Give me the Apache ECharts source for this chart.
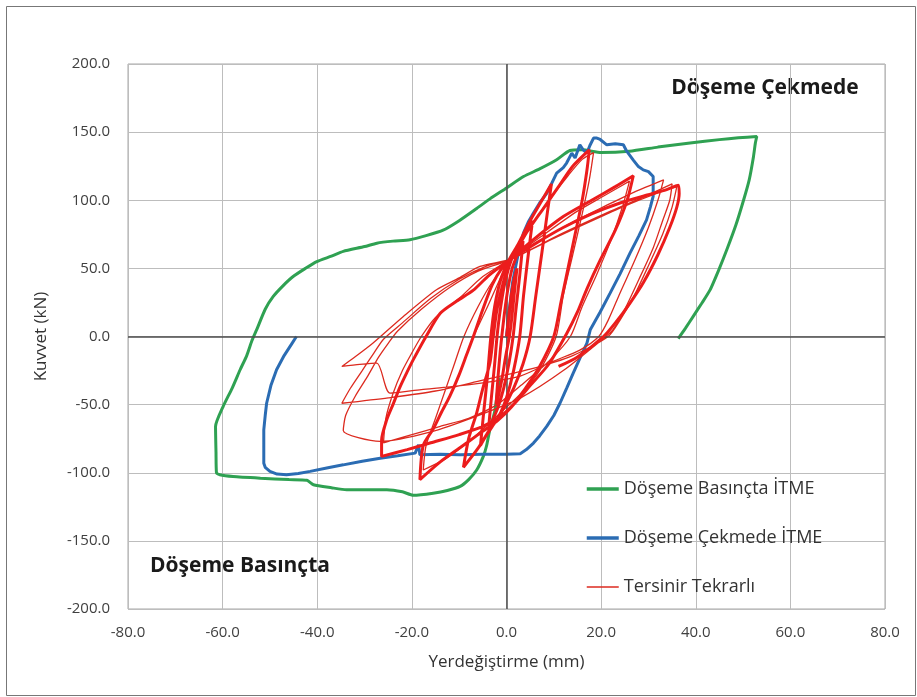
<!DOCTYPE html>
<html><head><meta charset="utf-8">
<script src="https://cdn.jsdelivr.net/npm/echarts@6/dist/echarts.min.js"></script>
<style>html,body{margin:0;padding:0;background:#fff}#c{width:917px;height:697px}</style>
</head><body><div id="c"></div>
<script>
// ---- Data: [displacement (mm), force (kN)] ----
const seriesNames = ['Döşeme Basınçta İTME', 'Döşeme Çekmede İTME', 'Tersinir Tekrarlı'];
const xAxisTicks = [-80, -60, -40, -20, 0, 20, 40, 60, 80];
const yAxisTicks = [-200, -150, -100, -50, 0, 50, 100, 150, 200];
const annotations = ['Döşeme Çekmede', 'Döşeme Basınçta'];
const axisTitles = ['Yerdeğiştirme (mm)', 'Kuvvet (kN)'];

const greenPts = [
  [-1.5,-30],[-2.5,-55],[-3.5,-68],[-4.2,-80],[-4.9,-88],[-6.3,-98],[-8,-105],[-9.8,-110],[-12.5,-113],[-15.5,-115],[-19.7,-116.5],
  [-22,-114],[-25.3,-112.5],[-29,-112.5],[-33.8,-112.5],[-37,-111],[-40.8,-108.8],[-42.2,-105.5],[-46,-105],[-52,-104],[-57.8,-102.8],
  [-60.6,-101.5],[-61.3,-100],[-61.4,-85],[-61.5,-66],[-59.9,-51.4],[-58,-38],[-56.3,-24.4],[-54.9,-14],[-53.8,-3],[-52.8,5],
  [-51,20],[-49.3,29.4],[-47.3,37],[-45.1,44],[-42.5,50],[-40.1,55],[-37,59],[-34.5,62.5],[-30,66],[-27.4,68.5],[-24,70],[-20.4,71],
  [-17,74],[-13.4,78],[-10,85],[-6.3,94],[-3.5,101],[0,109],[3.6,117.4],[7,123],[10.6,129.7],[13.4,136.5],[16,137],[20,135],
  [26,136],[32,139],[38.8,142],[45,144.5],[49,145.8],[52.9,146.8],[52.6,142],[52.2,132],[51.3,115],[50.1,100],[48.5,82],
  [46.6,64],[45,50],[43,34],[41.2,24],[39.5,15],[37.8,6],[36.3,-1.5]
];

const bluePts = [
  [0,0],[0.6,20],[1.3,40],[2.2,56],[3,68],[3.6,76],[4.6,84],[5.7,90.6],[7,98],[8.5,105],[9.5,112],[10.6,119.9],[12,124],
  [12.7,127.3],[13.8,134.6],[14.5,131],[15.5,140.7],[16.2,137],[17,134.6],[17.6,140],[18.4,145.6],[19.1,145.6],[19.8,144.6],
  [21.2,140.7],[23,141.5],[24.7,140.7],[25.4,136],[26.8,129.5],[27.8,125],[28.9,122.3],[30,121],[31,117.4],[31,110],[31,102.8],
  [30.4,95],[29.6,85.6],[28,74],[26.1,61.2],[24,46],[21.9,31.8],[19.8,18],[17.7,4.9],[17,-4.9],[15.5,-16],[14.1,-26.9],
  [12.7,-38],[11.3,-49],[10,-58],[8.5,-66],[7,-73],[5.7,-78.2],[4.2,-83],[2.9,-86],[0,-86.5],[-5,-86.5],[-9.8,-86.8],
  [-14,-86.5],[-18.3,-86.8],[-18.6,-79.5],[-19.3,-85.6],[-23,-87.5],[-26.7,-89.3],[-30.5,-91.5],[-34.5,-94.2],[-38,-96.5],
  [-41.5,-99],[-44,-100.5],[-46.5,-101.5],[-48.5,-101],[-50,-99],[-51,-96],[-51.3,-93],[-51.3,-80],[-51.3,-68.5],[-51,-58],
  [-50.7,-49],[-49.8,-36],[-48.6,-24.4],[-47,-14],[-45.5,-6],[-44.4,0]
];

const redThinPts = [
  [-7,0],[-4,22],[-1,45],[1,57],[5,80],[9,100],[13,118],[16,130],[18.4,135],[17.5,115],[16,90],[14,60],[12,30],[10.5,0],
  [7,-25],[3,-42],[-1,-55],[-5,-68],[-9,-80],[-13,-90],[-17.6,-98],[-17,-80],[-15,-60],[-13,-40],[-11,-20],[-9,0],
  [-6,22],[-3,40],[1,57],[8,75],[15,92],[21,104],[26,114],[24.5,95],[22,70],[19,45],[16,22],[13.5,0],[9,-18],[3,-36],
  [-2,-50],[-8,-60],[-14,-66],[-20,-72],[-26,-78],[-25.5,-60],[-24,-42],[-22,-25],[-20,-12],[-18,0],[-15,14],[-10,28],
  [-5,44],[1,57],[7,70],[14,84],[21,96],[27,106],[33.2,115],[32,100],[30,80],[27,55],[24,32],[21.5,12],[19.5,0],[15.5,-10],
  [10,-18],[2.9,-29],[-5,-34],[-12,-37],[-18,-39],[-24.6,-41.6],[-27.4,-19.5],[-31,-20.5],[-34.8,-22],[-32.4,-16],[-28.2,-4.8],
  [-21.8,14.7],[-14.8,34.3],[-10,43],[-5.6,51.4],[1,57],[10,72],[20,88],[28,100],[34,108],[36,110],[35,95],[33,75],[30,52],
  [27,30],[24,12],[21.5,0],[14,-14],[5,-24],[-5,-32],[-15,-40],[-25,-45],[-34.8,-49],[-33,-38],[-30.5,-25],[-28,-12],[-26,-2],
  [-22,10],[-16,28],[-10,42],[-4,52],[1,57],[12,76],[22,92],[30,104],[35,112],[34.5,100],[33,85],[31,65],[28,42],[25,20],
  [22.5,5],[21,0],[12,-25],[3,-45],[-6,-58],[-16,-70],[-26.7,-77],[-34.5,-69],[-34,-58],[-32,-44],[-29.5,-30],[-27,-15],
  [-25,-5],[-23,4],[-18,20],[-12,36],[-6,48],[0,55]
];

const redThickPts = [
  [0,0],[0.5,15],[1,30],[1.6,42],[2.2,50],[1.6,30],[1,10],[0.6,0],[-0.2,-15],[-0.9,-30],[-1.6,-42],[-2.2,-50],[-1.8,-30],
  [-1.3,-10],[-1,0],[-0.4,18],[0.3,35],[1.2,50],[2.5,62],[3.5,70],[2.8,45],[2,20],[1.4,0],[0.5,-20],[-0.6,-38],[-1.8,-52],
  [-3,-62],[-3.8,-68],[-3.2,-45],[-2.5,-20],[-2,0],[-1.3,20],[-0.3,40],[1,56],[2.5,66],[4.5,78],[5.5,85],[4.6,60],[3.6,30],
  [2.8,0],[1.5,-25],[0,-45],[-1.5,-58],[-3,-66],[-4.5,-74],[-5.5,-80],[-4.8,-55],[-4,-28],[-3.3,0],[-2.5,22],[-1.2,42],
  [0.5,56],[2.5,68],[5,85],[7.5,100],[9.5,112],[8.6,90],[7.5,62],[6.2,30],[5,0],[3.5,-20],[1.5,-38],[-1,-55],[-3.5,-68],
  [-6,-82],[-9.1,-96],[-8,-75],[-6.3,-56],[-5,-38],[-3.5,-19.5],[-2.8,0],[-2,20],[-0.5,42],[1,57],[4,75],[8,95],[11,110],
  [14,125],[17.5,137],[17,122],[16,100],[14.5,75],[13,50],[11.5,25],[10,0],[7,-22],[4,-38],[1,-52],[-2,-62],[-6,-72],
  [-10,-82],[-14,-92],[-18.3,-105],[-17.6,-80],[-15.5,-68],[-13.8,-56],[-12,-44],[-10,-28],[-8.5,-14],[-7,0],[-5,20],
  [-3,38],[-1,50],[1,57],[6,72],[12,88],[18,100],[23,110],[26.8,118],[25.5,100],[23,78],[19.8,56],[17,35],[15,18],[12.7,2],
  [9,-20],[5,-36],[2,-48],[-1,-58],[-5,-66],[-10,-72],[-16,-78],[-21,-83],[-26.4,-88],[-26.4,-76],[-25.3,-61],[-24,-50],
  [-22.5,-37],[-21,-26],[-19.7,-17],[-17,0],[-14,17],[-10.5,26],[-7,34],[-4,44],[-1.4,51],[1,57],[6,68],[12,80],[18,90],
  [24,98],[30,104],[34,108],[36.3,111],[36.5,105],[36,95],[34.5,80],[32,60],[29,40],[26,24],[23,10],[20.5,0],[15,-15],[11,-22]
];

// ---- Chart ----
const chart = echarts.init(document.getElementById('c'), null, {renderer: 'canvas'});
const FONT = '"Open Sans", "Liberation Sans", sans-serif';
const fmt = v => v.toFixed(1);
const GREEN = '#2fa152', BLUE = '#2b6cb3', RED_THIN = '#dc2a1f', RED_THICK = '#ec1c1c';

const option = {
  animation: false,
  backgroundColor: '#ffffff',
  grid: {left: 128, right: 32, top: 64, bottom: 88, show: true, borderColor: '#a6a6a6', borderWidth: 1},
  xAxis: {
    type: 'value', min: xAxisTicks[0], max: xAxisTicks[xAxisTicks.length - 1], interval: 20,
    axisLine: {show: false}, axisTick: {show: false},
    splitLine: {show: true, lineStyle: {color: '#bdbdbd', width: 1}},
    axisLabel: {formatter: fmt, margin: 16, color: '#404040', fontFamily: FONT, fontSize: 15},
    name: axisTitles[0], nameLocation: 'middle', nameGap: 45,
    nameTextStyle: {color: '#333333', fontFamily: FONT, fontSize: 17}
  },
  yAxis: {
    type: 'value', min: yAxisTicks[0], max: yAxisTicks[yAxisTicks.length - 1], interval: 50,
    axisLine: {show: false}, axisTick: {show: false},
    splitLine: {show: true, lineStyle: {color: '#bdbdbd', width: 1}},
    axisLabel: {formatter: fmt, margin: 18, color: '#404040', fontFamily: FONT, fontSize: 15},
    name: axisTitles[1], nameLocation: 'middle', nameGap: 78,
    nameTextStyle: {color: '#333333', fontFamily: FONT, fontSize: 17}
  },
  legend: {
    orient: 'vertical', left: 580, top: 475, itemWidth: 32, itemHeight: 14, itemGap: 31,
    itemStyle: {opacity: 0},
    textStyle: {color: '#333333', fontFamily: FONT, fontSize: 18},
    data: [
      {name: seriesNames[0], lineStyle: {width: 3.5, color: GREEN}},
      {name: seriesNames[1], lineStyle: {width: 3.5, color: BLUE}},
      {name: seriesNames[2], lineStyle: {width: 1.6, color: RED_THIN}}
    ]
  },
  graphic: [
    {type: 'rect', left: 4, top: 4, shape: {width: 909, height: 689}, style: {fill: 'none', stroke: '#777', lineWidth: 1}, silent: true},
    {type: 'text', x: 765, y: 88, style: {text: annotations[0], textAlign: 'center', textVerticalAlign: 'middle', font: 'bold 21px "Open Sans"', fill: '#1a1a1a'}},
    {type: 'text', x: 240, y: 566, style: {text: annotations[1], textAlign: 'center', textVerticalAlign: 'middle', font: 'bold 21px "Open Sans"', fill: '#1a1a1a'}}
  ],
  series: [
    {
      name: seriesNames[0], type: 'line', data: greenPts, symbol: 'none', smooth: 0.2,
      lineStyle: {color: GREEN, width: 3}, itemStyle: {color: GREEN}, z: 2,
      markLine: {
        silent: true, symbol: 'none', label: {show: false},
        lineStyle: {color: '#4d4d4d', width: 1.5, type: 'solid'},
        data: [{xAxis: 0}, {yAxis: 0}]
      }
    },
    {
      name: seriesNames[1], type: 'line', data: bluePts, symbol: 'none', smooth: false,
      lineStyle: {color: BLUE, width: 3}, itemStyle: {color: BLUE}, z: 3
    },
    {
      name: seriesNames[2], type: 'line', data: redThinPts, symbol: 'none', smooth: 0.25,
      lineStyle: {color: RED_THIN, width: 1.3}, itemStyle: {color: RED_THIN}, z: 4
    },
    {
      name: seriesNames[2], type: 'line', data: redThickPts, symbol: 'none', smooth: 0.25,
      lineStyle: {color: RED_THICK, width: 3}, itemStyle: {color: RED_THICK}, z: 5
    }
  ]
};
chart.setOption(option);
</script>
</body></html>
